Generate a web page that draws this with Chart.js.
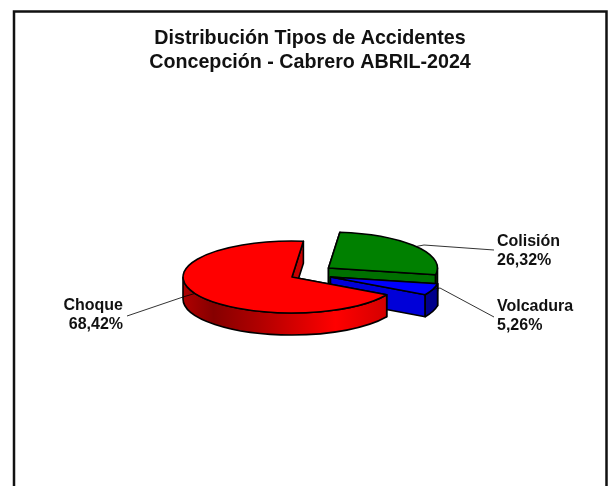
<!DOCTYPE html>
<html>
<head>
<meta charset="utf-8">
<style>
    html, body { margin: 0; padding: 0; background: #fff; overflow: hidden; }
    canvas { display: block; }
</style>
<script src="https://cdn.jsdelivr.net/npm/chart.js@4"></script>
</head>
<body>
<canvas id="pie" width="608" height="486"></canvas>
<script>
const titleLines = ["Distribución Tipos de Accidentes", "Concepción - Cabrero ABRIL-2024"];
const categories = ["Colisión", "Volcadura", "Choque"];
const percents = [26.32, 5.26, 68.42];
const colors = ["#008000", "#0000ff", "#ff0000"];

// 3d look: ellipse squash and wall height
const squash = 0.33;
const depth = 22;
const center = { x: 292, y: 277 };

// how far each slice is pulled out, and how it is lit
const explode = [{ x: 36.5, y: -9 }, { x: 38.5, y: 0 }, { x: 0, y: 0 }];
const faceWall = ["#007000", "#0000d8", "#c80000"];
const outerWall = [
    [[0, "#005a00"], [1, "#005a00"]],
    [[0, "#00008c"], [1, "#00008c"]],
    [[0, "#b00000"], [0.14, "#860000"], [0.35, "#b00000"], [0.7, "#ff0000"], [1, "#c80000"]]
];

// label placement and leader line elbows
const labelPos = [
    { x: 497, y: 242, align: "left" },
    { x: 497, y: 306.5, align: "left" },
    { x: 123, y: 306, align: "right" }
];
const elbows = [
    [[424, 245], [494, 250]],
    [[440, 288], [494, 317]],
    [[183, 297], [127, 316]]
];

function anchor(arc, i){
    const mid = (arc.startAngle + arc.endAngle) / 2;
    return {
        x: center.x + explode[i].x + Math.cos(mid) * arc.outerRadius,
        y: center.y + explode[i].y + Math.sin(mid) * arc.outerRadius * squash
    };
}

function outline(ctx, arc, cx, cy){
    const r = arc.outerRadius;
    ctx.beginPath();
    ctx.moveTo(cx, cy);
    ctx.ellipse(cx, cy, r, r * squash, 0, arc.startAngle, arc.endAngle);
    ctx.closePath();
}

function drawRadialWall(ctx, arc, cx, cy, angle, color){
    const r = arc.outerRadius;
    const px = cx + Math.cos(angle) * r;
    const py = cy + Math.sin(angle) * r * squash;
    ctx.beginPath();
    ctx.moveTo(cx, cy);
    ctx.lineTo(px, py);
    ctx.lineTo(px, py + depth);
    ctx.lineTo(cx, cy + depth);
    ctx.closePath();
    ctx.fillStyle = color;
    ctx.fill();
    ctx.stroke();
}

function drawOuterWall(ctx, arc, cx, cy, i){
    const r = arc.outerRadius;
    // only the front half of the rim can be seen
    const a0 = Math.max(arc.startAngle, 0);
    const a1 = Math.min(arc.endAngle, Math.PI);
    if(a1 <= a0) return;

    const grad = ctx.createLinearGradient(cx - r, 0, cx + r, 0);
    outerWall[i].forEach(s => grad.addColorStop(s[0], s[1]));

    ctx.beginPath();
    ctx.ellipse(cx, cy, r, r * squash, 0, a0, a1);
    ctx.ellipse(cx, cy + depth, r, r * squash, 0, a1, a0, true);
    ctx.closePath();
    ctx.fillStyle = grad;
    ctx.fill();
    ctx.stroke();
}

const pie3d = {
    id: "pie3d",
    beforeDraw(chart){
        const ctx = chart.ctx;
        ctx.save();
        ctx.fillStyle = "#fff";
        ctx.fillRect(0, 0, chart.width, chart.height);
        ctx.strokeStyle = "#111";
        ctx.lineWidth = 2.5;
        ctx.strokeRect(14, 11.5, 592.5, 500);
        ctx.restore();
    },
    beforeDatasetsDraw(chart){
        const ctx = chart.ctx;
        const arcs = chart.getDatasetMeta(0).data;

        arcs.forEach((arc, i) => {
            const cx = center.x + explode[i].x;
            const cy = center.y + explode[i].y;

            ctx.save();
            ctx.strokeStyle = "#000";
            ctx.lineWidth = 1.6;
            ctx.lineJoin = "round";
            drawRadialWall(ctx, arc, cx, cy, arc.startAngle, faceWall[i]);
            drawRadialWall(ctx, arc, cx, cy, arc.endAngle, faceWall[i]);
            drawOuterWall(ctx, arc, cx, cy, i);

            // the slice itself, squashed into an ellipse
            ctx.save();
            ctx.translate(cx, cy);
            ctx.scale(1, squash);
            ctx.translate(-arc.x, -arc.y);
            arc.draw(ctx);
            ctx.restore();

            outline(ctx, arc, cx, cy);
            ctx.stroke();
            ctx.restore();
        });

        return false;
    },
    afterDraw(chart){
        const ctx = chart.ctx;
        const arcs = chart.getDatasetMeta(0).data;

        ctx.save();
        ctx.strokeStyle = "rgba(0,0,0,0.8)";
        ctx.lineWidth = 1;
        arcs.forEach((arc, i) => {
            const a = anchor(arc, i);
            ctx.beginPath();
            ctx.moveTo(a.x, a.y);
            elbows[i].forEach(p => ctx.lineTo(p[0], p[1]));
            ctx.stroke();
        });

        ctx.fillStyle = "#111";
        ctx.font = "bold 16px 'Liberation Sans'";
        ctx.textBaseline = "middle";
        categories.forEach((name, i) => {
            const p = labelPos[i];
            ctx.textAlign = p.align;
            ctx.fillText(name, p.x, p.y);
            ctx.fillText(percents[i].toFixed(2).replace(".", ",") + "%", p.x, p.y + 19);
        });
        ctx.restore();
    }
};

new Chart(document.getElementById("pie"), {
    type: "pie",
    data: {
        labels: categories,
        datasets: [{
            data: percents,
            backgroundColor: colors,
            borderWidth: 0
        }]
    },
    options: {
        responsive: false,
        animation: false,
        rotation: 6,
        radius: 109,
        layout: { padding: { left: 12, top: 0 } },
        plugins: {
            legend: { display: false },
            tooltip: { enabled: false },
            title: {
                display: true,
                text: titleLines,
                color: "#111",
                font: { family: "'Liberation Sans'", size: 19.7, weight: "bold" },
                lineHeight: 1.22,
                padding: { top: 27, bottom: 10 }
            }
        }
    },
    plugins: [pie3d]
});
</script>
</body>
</html>
